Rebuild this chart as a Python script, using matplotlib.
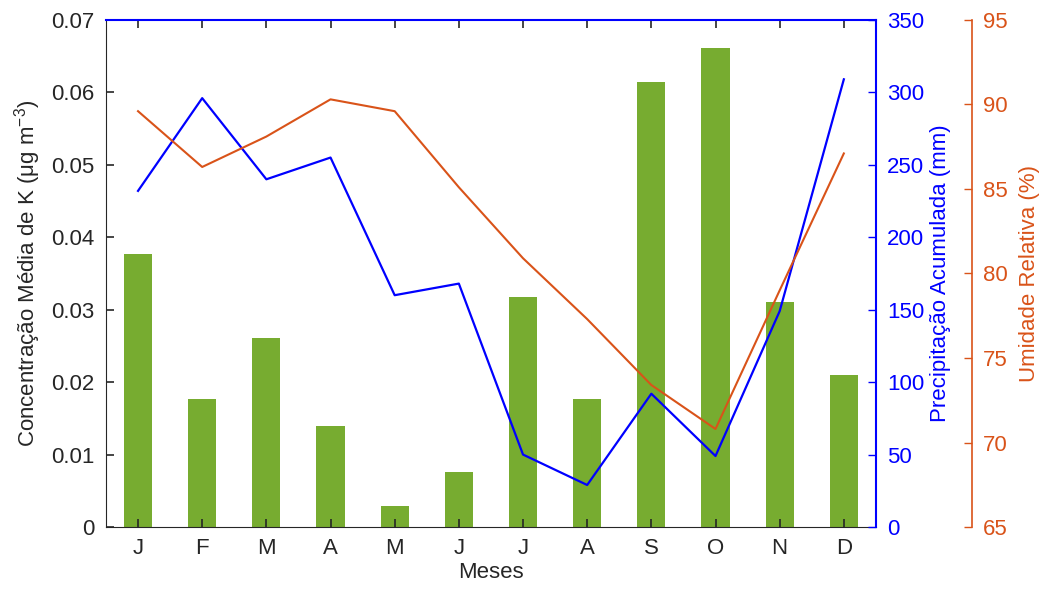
import numpy as np
import matplotlib.pyplot as plt

plt.rcParams['font.family'] = ['Liberation Sans', 'DejaVu Sans']
plt.rcParams['font.size'] = 16

## Monthly data
meses = ['J', 'F', 'M', 'A', 'M', 'J', 'J', 'A', 'S', 'O', 'N', 'D']
conc_k = [0.0377, 0.0177, 0.0261, 0.0139, 0.0029, 0.0076,
          0.0318, 0.0177, 0.0614, 0.0661, 0.0311, 0.0210]   # ug m-3
precip = [232, 296, 240, 255, 160, 168, 50, 29, 92, 49, 149, 309]   # mm
umidade = [89.6, 86.3, 88.1, 90.3, 89.6, 85.1, 80.9, 77.3, 73.4, 70.8, 79.0, 87.1]   # %

#Colours
verde = '#77ac30'
azul = '#0000ff'
laranja = '#d95319'
cinza = '#262626'

x = np.arange(1, len(meses) + 1)

fig = plt.figure(figsize=(10.49, 5.98), dpi=100)
ax = fig.add_axes([0.101, 0.1187, 0.734, 0.848])

#Bars - concentration of K
ax.bar(x, conc_k, width=0.44, color=verde, zorder=1)
ax.set_xlim(0.5, 12.5)
ax.set_ylim(0, 0.07)
ax.set_yticks(np.arange(0, 0.071, 0.01))
ax.set_yticklabels(['0'] + ['%.2f' % v for v in np.arange(0.01, 0.071, 0.01)])
ax.set_xticks(x)
ax.set_xticklabels(meses)
ax.spines['top'].set_color(azul)
ax.spines['top'].set_linewidth(1.5)
ax.spines['left'].set_color(cinza)
ax.spines['bottom'].set_color(cinza)
ax.spines['right'].set_visible(False)
ax.set_xlabel('Meses', color=cinza, labelpad=2)
ax.set_ylabel('Concentração Média de K (μg m$^{\\mathregular{-3}}$)', color=cinza, labelpad=6)

#Precipitation on the first right axis
ax2 = ax.twinx()
ax2.plot(x, precip, color=azul, lw=1.6)
ax2.set_ylim(0, 350)
ax2.set_yticks(np.arange(0, 351, 50))
ax2.tick_params(axis='y', direction='in', length=6, width=1, colors=azul, pad=8)
for s in ['left', 'top', 'bottom']:
    ax2.spines[s].set_visible(False)
ax2.spines['right'].set_color(azul)
ax2.spines['right'].set_linewidth(1.5)
ax2.set_ylabel('Precipitação Acumulada (mm)', color=azul, labelpad=4)

#Relative humidity on an offset right axis
ax3 = ax.twinx()
ax3.plot(x, umidade, color=laranja, lw=1.5)
ax3.set_ylim(65, 95)
ax3.set_yticks(np.arange(65, 96, 5))
ax3.spines['right'].set_position(('axes', 1.1247))
for s in ['left', 'top', 'bottom']:
    ax3.spines[s].set_visible(False)
ax3.spines['right'].set_color(laranja)
ax3.spines['right'].set_linewidth(1.2)
ax3.tick_params(axis='y', direction='in', length=6, width=1, colors=laranja, pad=8)
ax3.set_ylabel('Umidade Relativa (%)', color=laranja, labelpad=8)

#Ticks of the host axes, month ticks repeated along the top edge
ax.yaxis.set_ticks_position('left')
ax.xaxis.set_ticks_position('both')
ax.tick_params(axis='both', direction='in', length=6, width=1.2, colors=cinza,
               labelcolor=cinza, pad=8)
for t in ax.xaxis.get_major_ticks():
    t.tick2line.set_color('#1a1a90')

plt.savefig('out.png', dpi=100)
